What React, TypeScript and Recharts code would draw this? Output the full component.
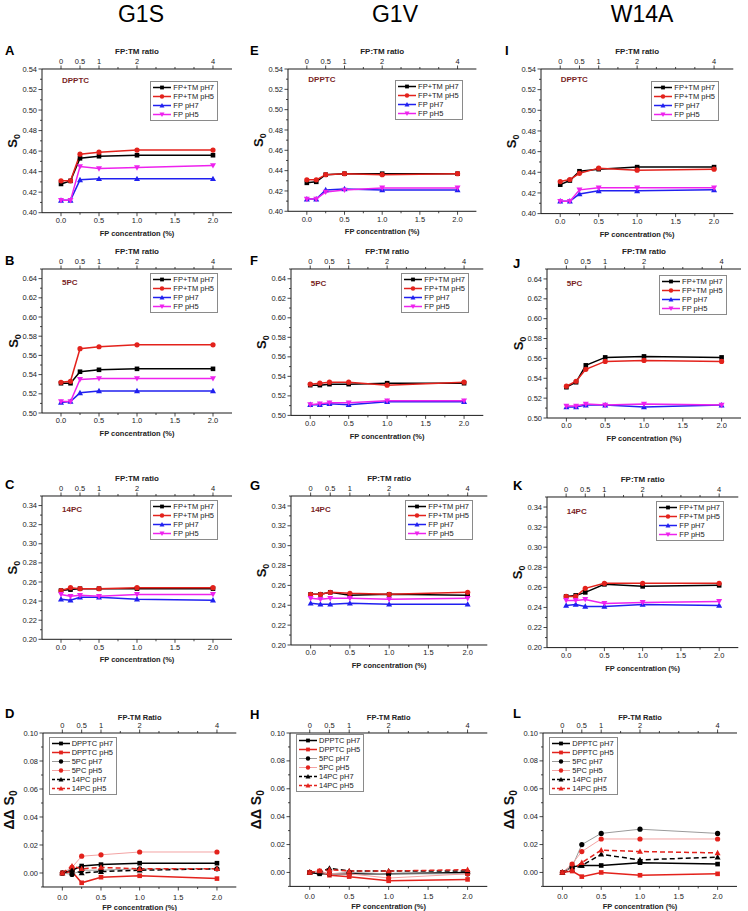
import React from "react";
import { LineChart, Line, XAxis, YAxis } from "recharts";

// FP concentration (%) at which S0 was measured
const CONC = [0, 0.125, 0.25, 0.5, 1.0, 2.0];

const CONC_TICKS = [0, 0.25, 0.5, 0.75, 1, 1.25, 1.5, 1.75, 2];
const CONC_LABELED = [0, 0.5, 1, 1.5, 2];
const RATIO_AT = [0, 0.25, 0.5, 1, 2]; // top axis: FP:TM ratio = 2 x conc -> 0, 0.5, 1, 2, 4

const TICKS_DPPTC = [0.40, 0.41, 0.42, 0.43, 0.44, 0.45, 0.46, 0.47, 0.48, 0.49, 0.50, 0.51, 0.52, 0.53, 0.54];
const TICKS_5PC = [0.50, 0.51, 0.52, 0.53, 0.54, 0.55, 0.56, 0.57, 0.58, 0.59, 0.60, 0.61, 0.62, 0.63, 0.64, 0.65];
const TICKS_14PC = [0.20, 0.21, 0.22, 0.23, 0.24, 0.25, 0.26, 0.27, 0.28, 0.29, 0.30, 0.31, 0.32, 0.33, 0.34, 0.35];
const TICKS_DD = [-0.01, 0.00, 0.01, 0.02, 0.03, 0.04, 0.05, 0.06, 0.07, 0.08, 0.09, 0.10];

// ---- G1S ----
const G1S_DPPTC_TM7 = [0.428, 0.431, 0.453, 0.455, 0.456, 0.456];
const G1S_DPPTC_TM5 = [0.431, 0.431, 0.457, 0.459, 0.461, 0.461];
const G1S_DPPTC_FP7 = [0.412, 0.412, 0.432, 0.433, 0.433, 0.433];
const G1S_DPPTC_FP5 = [0.412, 0.412, 0.445, 0.443, 0.444, 0.446];

const G1S_5PC_TM7 = [0.531, 0.531, 0.543, 0.545, 0.546, 0.546];
const G1S_5PC_TM5 = [0.532, 0.533, 0.567, 0.569, 0.571, 0.571];
const G1S_5PC_FP7 = [0.511, 0.512, 0.521, 0.523, 0.523, 0.523];
const G1S_5PC_FP5 = [0.512, 0.512, 0.535, 0.536, 0.536, 0.536];

const G1S_14PC_TM7 = [0.251, 0.252, 0.253, 0.253, 0.253, 0.253];
const G1S_14PC_TM5 = [0.251, 0.254, 0.253, 0.253, 0.254, 0.254];
const G1S_14PC_FP7 = [0.242, 0.241, 0.244, 0.244, 0.242, 0.241];
const G1S_14PC_FP5 = [0.247, 0.245, 0.246, 0.245, 0.247, 0.247];

const G1S_DD_DPPTC7 = [0, 0.002, 0.005, 0.006, 0.007, 0.007];
const G1S_DD_DPPTC5 = [0, 0.001, -0.007, -0.003, -0.002, -0.004];
const G1S_DD_5PC7 = [0, -0.001, 0.002, 0.002, 0.003, 0.003];
const G1S_DD_5PC5 = [0, 0.004, 0.012, 0.013, 0.015, 0.015];
const G1S_DD_14PC7 = [0, 0.002, 0.0, 0.001, 0.002, 0.003];
const G1S_DD_14PC5 = [0, 0.005, 0.003, 0.004, 0.003, 0.003];

// ---- G1V ----
const G1V_DPPTC_TM7 = [0.428, 0.429, 0.436, 0.437, 0.437, 0.437];
const G1V_DPPTC_TM5 = [0.431, 0.431, 0.436, 0.437, 0.436, 0.437];
const G1V_DPPTC_FP7 = [0.412, 0.412, 0.421, 0.422, 0.421, 0.421];
const G1V_DPPTC_FP5 = [0.412, 0.412, 0.419, 0.421, 0.423, 0.423];

const G1V_5PC_TM7 = [0.531, 0.531, 0.532, 0.532, 0.533, 0.533];
const G1V_5PC_TM5 = [0.532, 0.533, 0.534, 0.534, 0.531, 0.534];
const G1V_5PC_FP7 = [0.511, 0.511, 0.512, 0.511, 0.514, 0.514];
const G1V_5PC_FP5 = [0.511, 0.512, 0.513, 0.513, 0.515, 0.515];

const G1V_14PC_TM7 = [0.251, 0.251, 0.253, 0.250, 0.251, 0.250];
const G1V_14PC_TM5 = [0.251, 0.251, 0.253, 0.252, 0.251, 0.253];
const G1V_14PC_FP7 = [0.242, 0.241, 0.241, 0.242, 0.241, 0.241];
const G1V_14PC_FP5 = [0.247, 0.246, 0.247, 0.247, 0.246, 0.247];

const G1V_DD_DPPTC7 = [0, -0.001, -0.001, -0.001, -0.001, 0.0];
const G1V_DD_DPPTC5 = [0, 0.001, -0.002, -0.003, -0.006, -0.005];
const G1V_DD_5PC7 = [0, 0.0, -0.001, 0.0, -0.001, -0.001];
const G1V_DD_5PC5 = [0, 0.001, -0.001, -0.001, -0.004, -0.001];
const G1V_DD_14PC7 = [0, 0.0, 0.003, 0.001, 0.001, 0.001];
const G1V_DD_14PC5 = [0, 0.001, 0.002, 0.001, 0.001, 0.002];

// ---- W14A ----
const W14A_DPPTC_TM7 = [0.428, 0.432, 0.441, 0.443, 0.445, 0.445];
const W14A_DPPTC_TM5 = [0.431, 0.433, 0.439, 0.444, 0.442, 0.443];
const W14A_DPPTC_FP7 = [0.412, 0.412, 0.419, 0.422, 0.422, 0.423];
const W14A_DPPTC_FP5 = [0.412, 0.412, 0.423, 0.425, 0.425, 0.425];

const W14A_5PC_TM7 = [0.531, 0.536, 0.553, 0.561, 0.562, 0.561];
const W14A_5PC_TM5 = [0.532, 0.537, 0.549, 0.557, 0.558, 0.557];
const W14A_5PC_FP7 = [0.511, 0.511, 0.513, 0.513, 0.511, 0.513];
const W14A_5PC_FP5 = [0.512, 0.512, 0.514, 0.513, 0.514, 0.513];

const W14A_14PC_TM7 = [0.251, 0.252, 0.255, 0.263, 0.261, 0.262];
const W14A_14PC_TM5 = [0.251, 0.251, 0.259, 0.264, 0.264, 0.264];
const W14A_14PC_FP7 = [0.242, 0.243, 0.241, 0.241, 0.243, 0.242];
const W14A_14PC_FP5 = [0.247, 0.247, 0.248, 0.244, 0.245, 0.246];

const W14A_DD_DPPTC7 = [0, 0.004, 0.005, 0.005, 0.007, 0.006];
const W14A_DD_DPPTC5 = [0, 0.001, -0.003, 0.0, -0.002, -0.001];
const W14A_DD_5PC7 = [0, 0.004, 0.020, 0.028, 0.031, 0.028];
const W14A_DD_5PC5 = [0, 0.006, 0.015, 0.024, 0.024, 0.024];
const W14A_DD_14PC7 = [0, 0.002, 0.005, 0.013, 0.009, 0.011];
const W14A_DD_14PC5 = [0, 0.002, 0.007, 0.016, 0.015, 0.014];

const COLUMN_TITLES = ["G1S", "G1V", "W14A"];

const FONT = '"Liberation Sans", Arial, Helvetica, sans-serif';
const AX = "#1a1a1a";
const TXT = "#222";
const RED = "#e3221c";
const BLUE = "#2020f0";
const MAGENTA = "#ee22ee";
const MAROON = "#7a1f1f";

type Style = { name: string; color: string; mark?: string; shape: string; width?: number; dash?: string };

const S0_STYLE: Style[] = [
  { name: "FP+TM pH7", color: "#000", shape: "square" },
  { name: "FP+TM pH5", color: RED, shape: "circle" },
  { name: "FP pH7", color: BLUE, shape: "up" },
  { name: "FP pH5", color: MAGENTA, shape: "down" },
];

const DD_STYLE: Style[] = [
  { name: "DPPTC pH7", color: "#000", shape: "square", width: 1.5 },
  { name: "DPPTC pH5", color: RED, shape: "square", width: 1.5 },
  { name: "5PC pH7", color: "#9a9a9a", mark: "#000", shape: "circle", width: 1 },
  { name: "5PC pH5", color: "#f3a3a3", mark: RED, shape: "circle", width: 1 },
  { name: "14PC pH7", color: "#000", shape: "up", width: 1.5, dash: "5 3" },
  { name: "14PC pH5", color: RED, shape: "up", width: 1.5, dash: "5 3" },
];

type PanelCfg = {
  letter: string; lx: number; ly: number;
  l: number; t: number; r: number; b: number;
  kind: "s0" | "dd"; lipid?: string; ticks: number[]; series: number[][];
  legendDy: number; textDy: number;
};

const PANELS: PanelCfg[] = [
  { letter: "A", lx: 5, ly: 51, l: 42, t: 69, r: 232, b: 212.7, kind: "s0", lipid: "DPPTC", ticks: TICKS_DPPTC,
    series: [G1S_DPPTC_TM7, G1S_DPPTC_TM5, G1S_DPPTC_FP7, G1S_DPPTC_FP5], legendDy: 12, textDy: 11.5 },
  { letter: "B", lx: 5, ly: 261, l: 42, t: 269.3, r: 232, b: 413.3, kind: "s0", lipid: "5PC", ticks: TICKS_5PC,
    series: [G1S_5PC_TM7, G1S_5PC_TM5, G1S_5PC_FP7, G1S_5PC_FP5], legendDy: 3.5, textDy: 13.5 },
  { letter: "C", lx: 5, ly: 485, l: 42, t: 496, r: 232, b: 639.3, kind: "s0", lipid: "14PC", ticks: TICKS_14PC,
    series: [G1S_14PC_TM7, G1S_14PC_TM5, G1S_14PC_FP7, G1S_14PC_FP5], legendDy: 4, textDy: 13.5 },
  { letter: "D", lx: 5, ly: 714, l: 42.7, t: 732.7, r: 236, b: 886.7, kind: "dd", ticks: TICKS_DD,
    series: [G1S_DD_DPPTC7, G1S_DD_DPPTC5, G1S_DD_5PC7, G1S_DD_5PC5, G1S_DD_14PC7, G1S_DD_14PC5], legendDy: 4, textDy: 0 },

  { letter: "E", lx: 250, ly: 51, l: 288.3, t: 68.7, r: 476.7, b: 211, kind: "s0", lipid: "DPPTC", ticks: TICKS_DPPTC,
    series: [G1V_DPPTC_TM7, G1V_DPPTC_TM5, G1V_DPPTC_FP7, G1V_DPPTC_FP5], legendDy: 11.5, textDy: 11.5 },
  { letter: "F", lx: 250, ly: 261, l: 290.7, t: 269.3, r: 483, b: 415.7, kind: "s0", lipid: "5PC", ticks: TICKS_5PC,
    series: [G1V_5PC_TM7, G1V_5PC_TM5, G1V_5PC_FP7, G1V_5PC_FP5], legendDy: 3.5, textDy: 15 },
  { letter: "G", lx: 250, ly: 485.5, l: 290.7, t: 495.7, r: 487, b: 644.7, kind: "s0", lipid: "14PC", ticks: TICKS_14PC,
    series: [G1V_14PC_TM7, G1V_14PC_TM5, G1V_14PC_FP7, G1V_14PC_FP5], legendDy: 4.3, textDy: 14.5 },
  { letter: "H", lx: 250, ly: 714.5, l: 290, t: 733.3, r: 487.3, b: 886.7, kind: "dd", ticks: TICKS_DD,
    series: [G1V_DD_DPPTC7, G1V_DD_DPPTC5, G1V_DD_5PC7, G1V_DD_5PC5, G1V_DD_14PC7, G1V_DD_14PC5], legendDy: 1, textDy: 0 },

  { letter: "I", lx: 505, ly: 51, l: 540.7, t: 68.7, r: 733, b: 213.3, kind: "s0", lipid: "DPPTC", ticks: TICKS_DPPTC,
    series: [W14A_DPPTC_TM7, W14A_DPPTC_TM5, W14A_DPPTC_FP7, W14A_DPPTC_FP5], legendDy: 12, textDy: 11.5 },
  { letter: "J", lx: 513, ly: 263.5, l: 546.7, t: 269.3, r: 740.7, b: 418.3, kind: "s0", lipid: "5PC", ticks: TICKS_5PC,
    series: [W14A_5PC_TM7, W14A_5PC_TM5, W14A_5PC_FP7, W14A_5PC_FP5], legendDy: 5.7, textDy: 15 },
  { letter: "K", lx: 513, ly: 485.5, l: 546.7, t: 496.7, r: 738, b: 647.3, kind: "s0", lipid: "14PC", ticks: TICKS_14PC,
    series: [W14A_14PC_TM7, W14A_14PC_TM5, W14A_14PC_FP7, W14A_14PC_FP5], legendDy: 4.3, textDy: 15 },
  { letter: "L", lx: 513, ly: 714, l: 543.3, t: 733.3, r: 737.3, b: 886.7, kind: "dd", ticks: TICKS_DD,
    series: [W14A_DD_DPPTC7, W14A_DD_DPPTC5, W14A_DD_5PC7, W14A_DD_5PC5, W14A_DD_14PC7, W14A_DD_14PC5], legendDy: 3.4, textDy: 0 },
];

const COLUMN_CENTERS = [141, 395, 642];

const YW = 46;
const TH = 24;
const BH = 26;
const RW = 6;

function isMajor(v: number) {
  return Math.round(v * 100) % 2 === 0;
}

function Marker({ x, y, shape, color, r = 2.3 }: { x: number; y: number; shape: string; color: string; r?: number }) {
  if (x == null || y == null) return null;
  if (shape === "square") return <rect x={x - r} y={y - r} width={2 * r} height={2 * r} fill={color} />;
  if (shape === "circle") return <circle cx={x} cy={y} r={r + 0.3} fill={color} />;
  if (shape === "up")
    return <polygon points={`${x},${y - r * 1.35} ${x - r * 1.3},${y + r} ${x + r * 1.3},${y + r}`} fill={color} />;
  return <polygon points={`${x},${y + r * 1.35} ${x - r * 1.3},${y - r} ${x + r * 1.3},${y - r}`} fill={color} />;
}

function LegendBox({ styles, pos }: { styles: Style[]; pos: React.CSSProperties }) {
  return (
    <div
      style={{
        position: "absolute",
        ...pos,
        border: "1px solid #8a8a8a",
        background: "#fff",
        padding: "1px 3px 1px 2px",
        fontFamily: FONT,
        fontSize: 7.5,
        lineHeight: "9px",
        color: TXT,
      }}
    >
      {styles.map((s) => (
        <div key={s.name} style={{ display: "flex", alignItems: "center", whiteSpace: "nowrap", height: 9 }}>
          <svg width={18} height={9} style={{ display: "block" }}>
            <line x1={0} x2={18} y1={4.5} y2={4.5} stroke={s.color} strokeWidth={s.width ?? 1.5} strokeDasharray={s.dash ? "3 2" : undefined} />
            <Marker x={9} y={4.5} shape={s.shape} color={s.mark ?? s.color} r={1.9} />
          </svg>
          <span style={{ marginLeft: 2 }}>{s.name}</span>
        </div>
      ))}
    </div>
  );
}

function Panel({ p }: { p: PanelCfg }) {
  const dd = p.kind === "dd";
  const styles = dd ? DD_STYLE : S0_STYLE;
  const fw = p.r - p.l;
  const fh = p.b - p.t;
  const W = YW + fw + RW;
  const H = TH + fh + BH;
  const rows = CONC.map((x, i) => {
    const o: Record<string, number> = { x };
    p.series.forEach((s, k) => {
      o["s" + k] = s[i];
    });
    return o;
  });
  const domain = [p.ticks[0], p.ticks[p.ticks.length - 1]];
  const xLabDy = dd ? 12.7 : 10.3;
  const cx = YW + fw / 2;

  const leftTick = (t: any) => {
    const v = t.payload.value;
    const maj = isMajor(v);
    return (
      <g>
        <line x1={t.x - (maj ? 3.5 : 2)} x2={t.x} y1={t.y} y2={t.y} stroke={AX} strokeWidth={0.8} />
        {maj && (
          <text x={t.x - 5} y={t.y} dy={2.6} textAnchor="end" fontSize={7.5} fill={TXT} fontFamily={FONT}>
            {v.toFixed(2)}
          </text>
        )}
      </g>
    );
  };
  const rightTick = (t: any) => {
    const maj = isMajor(t.payload.value);
    return <line x1={t.x} x2={t.x + (maj ? 3.5 : 2)} y1={t.y} y2={t.y} stroke={AX} strokeWidth={0.8} />;
  };
  const bottomTick = (t: any) => {
    const v = t.payload.value;
    const maj = CONC_LABELED.includes(v);
    return (
      <g>
        <line x1={t.x} x2={t.x} y1={t.y} y2={t.y + (maj ? 3.5 : 2)} stroke={AX} strokeWidth={0.8} />
        {maj && (
          <text x={t.x} y={t.y + xLabDy} textAnchor="middle" fontSize={7.5} fill={TXT} fontFamily={FONT}>
            {v.toFixed(1)}
          </text>
        )}
      </g>
    );
  };
  const topTick = (t: any) => {
    const v = t.payload.value;
    const maj = RATIO_AT.includes(v);
    return (
      <g>
        <line x1={t.x} x2={t.x} y1={t.y} y2={t.y - (maj ? 3.5 : 2)} stroke={AX} strokeWidth={0.8} />
        {maj && (
          <text x={t.x} y={t.y - 4.6} textAnchor="middle" fontSize={7.5} fill={TXT} fontFamily={FONT}>
            {String(v * 2)}
          </text>
        )}
      </g>
    );
  };

  const bottomTitle = () => (
    <text x={cx} y={TH + fh + (dd ? 22.6 : 23.2)} textAnchor="middle" fontSize={7.5} fontWeight="bold" fill={TXT} fontFamily={FONT}>
      FP concentration (%)
    </text>
  );
  const topTitle = () => (
    <text x={cx} y={TH - (dd ? 13.2 : 14.8)} textAnchor="middle" fontSize={dd ? 7.5 : 8} fontWeight="bold" fill={TXT} fontFamily={FONT}>
      {dd ? "FP-TM Ratio" : "FP:TM ratio"}
    </text>
  );
  const yTitle = () => {
    const ycx = YW - (dd ? 34 : 29);
    const ycy = TH + fh / 2;
    return (
      <text
        x={ycx}
        y={ycy}
        dy={dd ? 5 : 4.5}
        transform={`rotate(-90 ${ycx} ${ycy})`}
        textAnchor="middle"
        fontSize={dd ? 14 : 13}
        fontWeight="bold"
        fill="#111"
        fontFamily={FONT}
      >
        {dd ? "ΔΔ S" : "S"}
        <tspan fontSize={dd ? 10 : 9} dy={3}>
          0
        </tspan>
      </text>
    );
  };

  return (
    <div style={{ position: "absolute", left: p.l - YW, top: p.t - TH, width: W, height: H }}>
      <LineChart width={W} height={H} data={rows} margin={{ top: 0, right: RW, bottom: 0, left: 0 }}>
        <XAxis
          xAxisId="b"
          dataKey="x"
          type="number"
          domain={[-0.25, 2.25]}
          allowDataOverflow
          ticks={CONC_TICKS}
          interval={0}
          height={BH}
          tickSize={0}
          tickMargin={0}
          tickLine={false}
          axisLine={{ stroke: AX, strokeWidth: 1 }}
          tick={bottomTick}
          label={bottomTitle}
        />
        <XAxis
          xAxisId="t"
          orientation="top"
          dataKey="x"
          type="number"
          domain={[-0.25, 2.25]}
          allowDataOverflow
          ticks={CONC_TICKS}
          interval={0}
          height={TH}
          tickSize={0}
          tickMargin={0}
          tickLine={false}
          axisLine={{ stroke: AX, strokeWidth: 1 }}
          tick={topTick}
          label={topTitle}
        />
        <YAxis
          yAxisId="l"
          type="number"
          domain={domain}
          allowDataOverflow
          ticks={p.ticks}
          interval={0}
          width={YW}
          tickSize={0}
          tickMargin={0}
          tickLine={false}
          axisLine={{ stroke: AX, strokeWidth: 1 }}
          tick={leftTick}
          label={yTitle}
        />
        <YAxis
          yAxisId="r"
          orientation="right"
          type="number"
          domain={domain}
          allowDataOverflow
          ticks={p.ticks}
          interval={0}
          width={0}
          tickSize={0}
          tickMargin={0}
          tickLine={false}
          axisLine={{ stroke: AX, strokeWidth: 1 }}
          tick={rightTick}
        />
        {styles.map((s, i) => (
          <Line
            key={s.name}
            xAxisId="b"
            yAxisId="l"
            type="linear"
            dataKey={"s" + i}
            name={s.name}
            stroke={s.color}
            strokeWidth={s.width ?? 1.5}
            strokeDasharray={s.dash}
            isAnimationActive={false}
            dot={(d: any) => <Marker key={`d${i}-${d.index}`} x={d.cx} y={d.cy} shape={s.shape} color={s.mark ?? s.color} />}
            activeDot={false}
          />
        ))}
      </LineChart>
      {p.lipid && (
        <div
          style={{
            position: "absolute",
            left: YW + 20,
            top: TH + p.textDy - 5,
            fontFamily: FONT,
            fontSize: 8,
            lineHeight: "10px",
            fontWeight: "bold",
            color: MAROON,
          }}
        >
          {p.lipid}
        </div>
      )}
      <LegendBox
        styles={styles}
        pos={dd ? { left: YW + 6, top: TH + p.legendDy } : { right: RW + 14, top: TH + p.legendDy }}
      />
    </div>
  );
}

export default function App() {
  return (
    <div style={{ position: "absolute", left: 0, top: 0, width: 748, height: 911, background: "#fff", overflow: "hidden" }}>
      {COLUMN_TITLES.map((t, i) => (
        <div
          key={t}
          style={{
            position: "absolute",
            left: COLUMN_CENTERS[i] - 60,
            top: 1,
            width: 120,
            textAlign: "center",
            fontFamily: FONT,
            fontSize: 23,
            lineHeight: "26px",
            color: "#000",
          }}
        >
          {t}
        </div>
      ))}
      {PANELS.map((p) => (
        <div
          key={"lab" + p.letter}
          style={{
            position: "absolute",
            left: p.lx,
            top: p.ly - 8,
            fontFamily: FONT,
            fontSize: 13,
            lineHeight: "16px",
            fontWeight: "bold",
            color: "#000",
          }}
        >
          {p.letter}
        </div>
      ))}
      {PANELS.map((p) => (
        <Panel key={p.letter} p={p} />
      ))}
    </div>
  );
}
